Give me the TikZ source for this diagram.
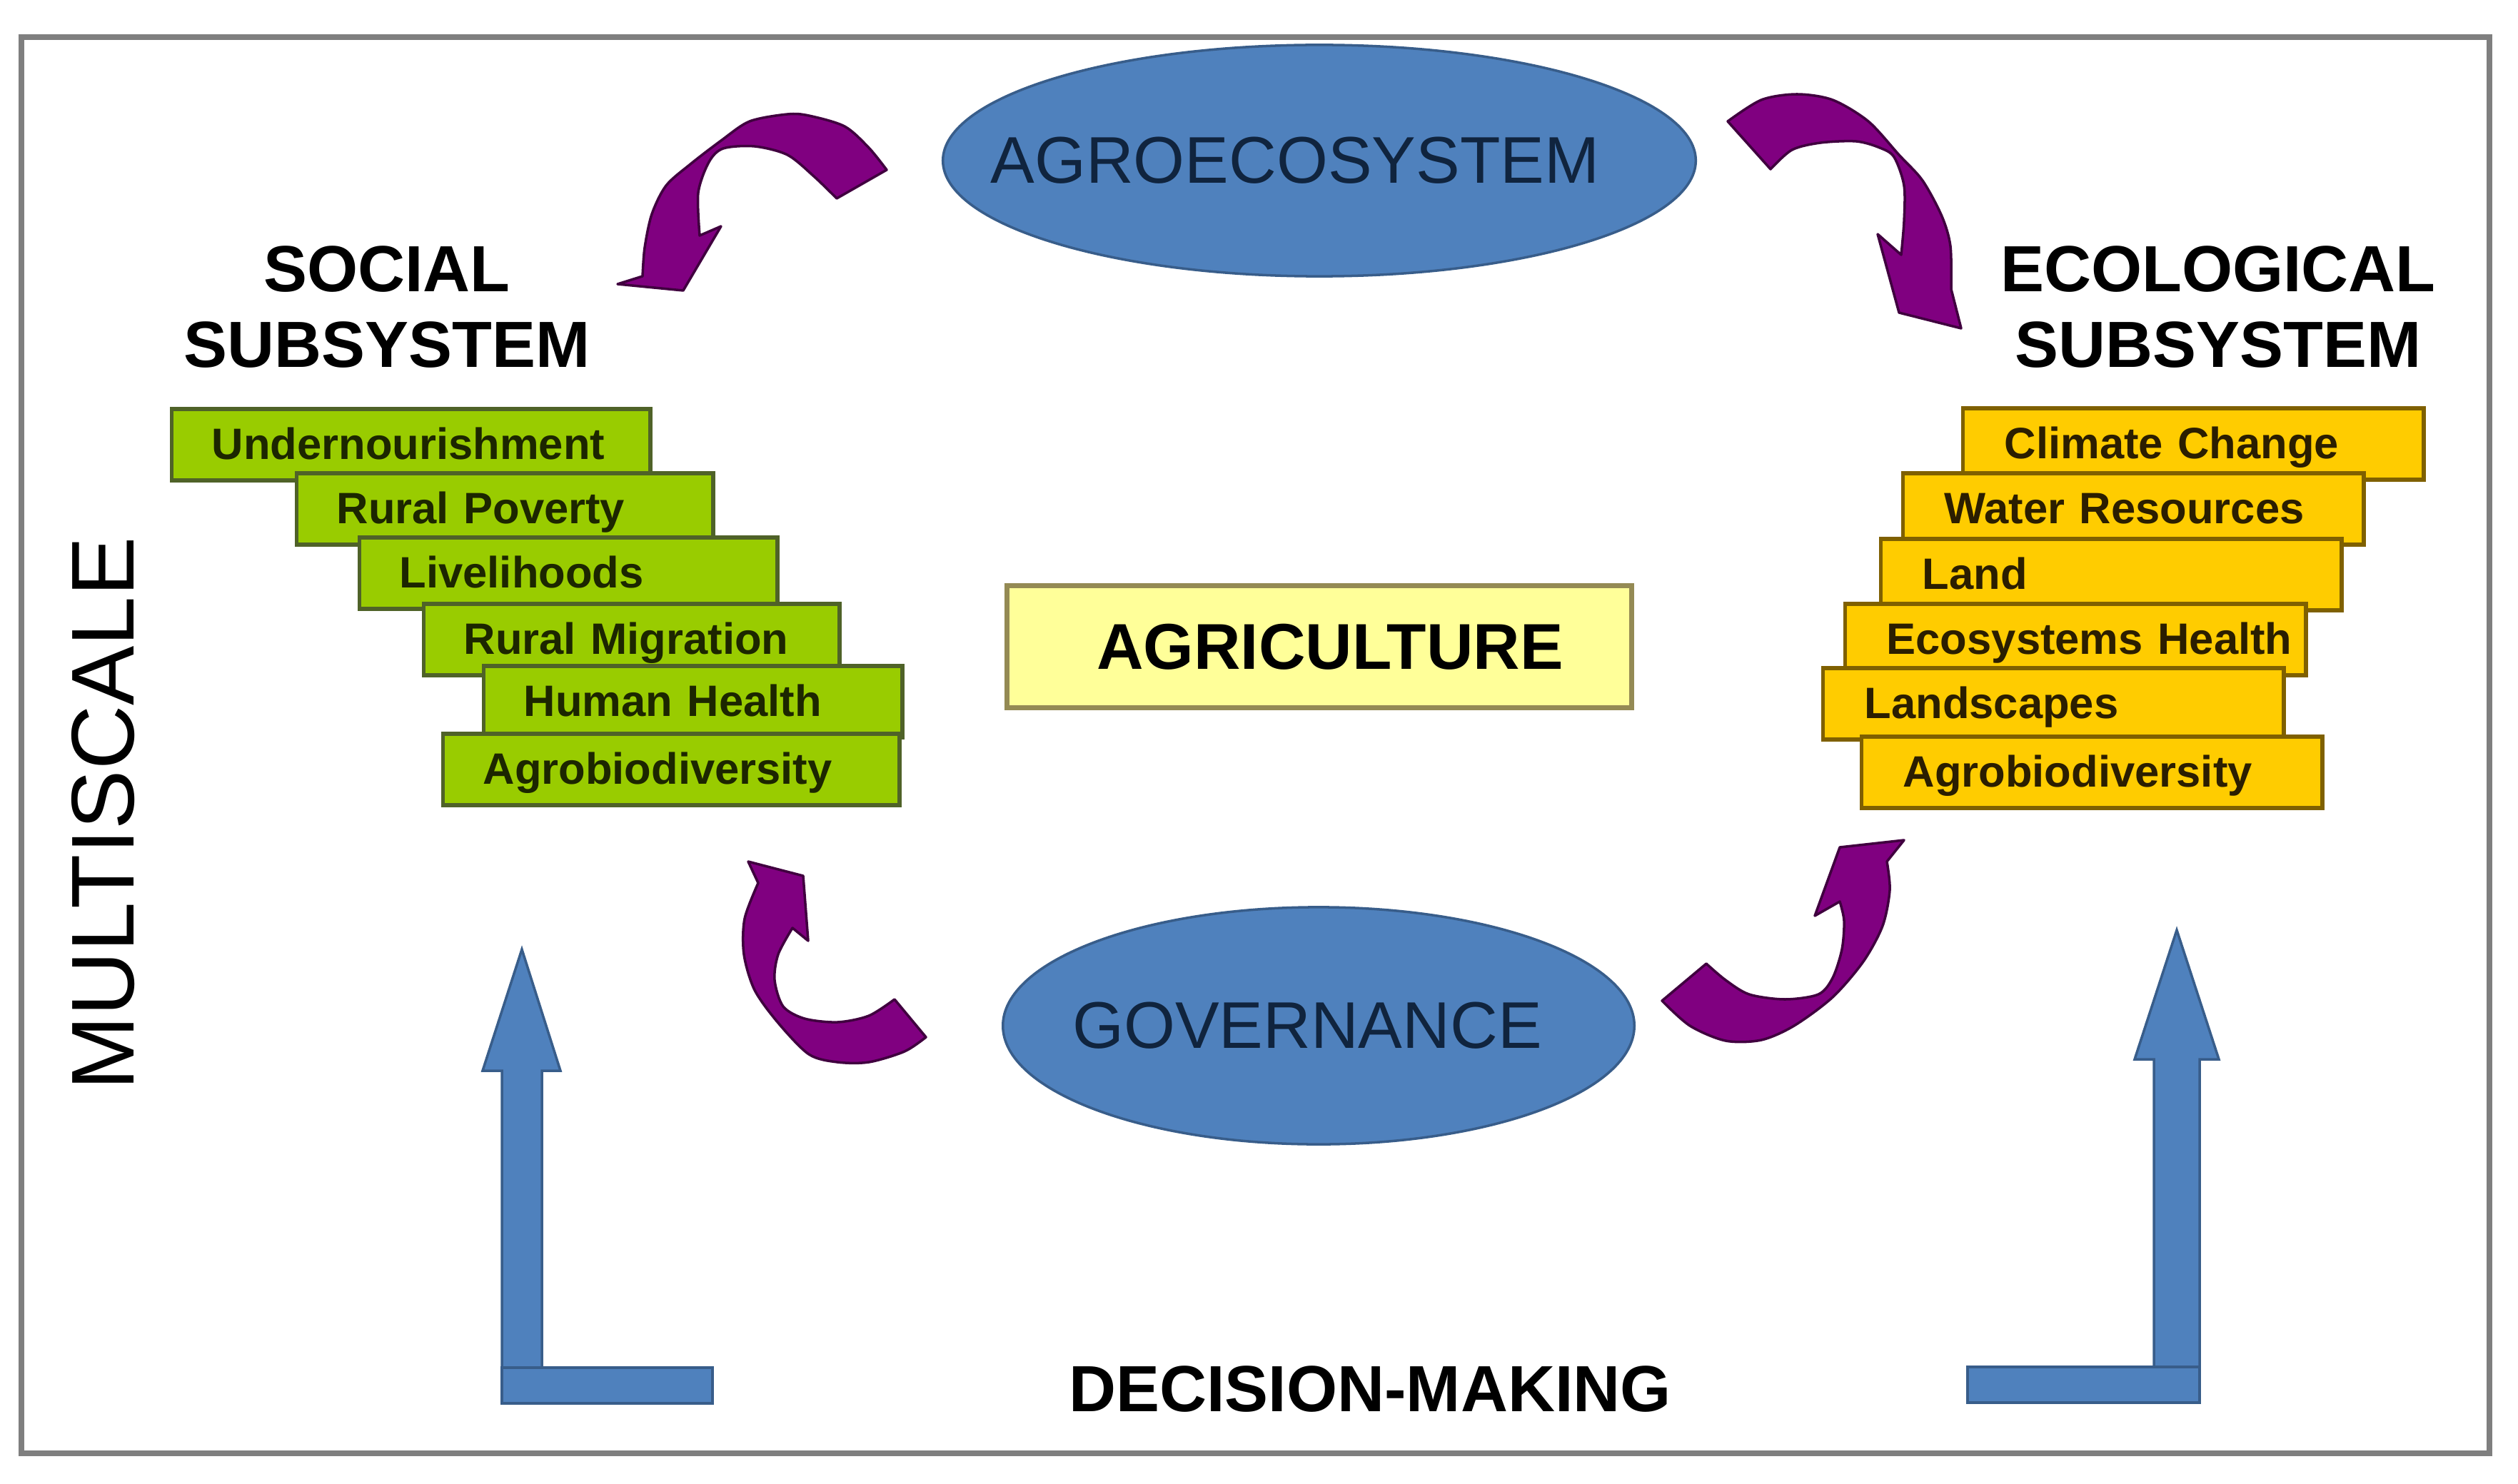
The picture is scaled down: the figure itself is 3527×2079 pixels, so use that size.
\documentclass[tikz,border=0pt]{standalone}
\usepackage{fontspec}
\setmainfont{Liberation Sans}
\usetikzlibrary{shapes.geometric}
\definecolor{officeblue}{HTML}{4F81BD}
\definecolor{officeblueline}{HTML}{385D8A}
\definecolor{navytext}{HTML}{10243E}
\definecolor{socgreen}{HTML}{99CC00}
\definecolor{socgreenline}{HTML}{4F6228}
\definecolor{socgreentext}{HTML}{1C2600}
\definecolor{ecogold}{HTML}{FFCC00}
\definecolor{ecogoldline}{HTML}{7F6000}
\definecolor{ecogoldtext}{HTML}{2B1E00}
\definecolor{agriyellow}{HTML}{FFFF99}
\definecolor{agriline}{HTML}{948A54}
\definecolor{loopviolet}{HTML}{800080}
\definecolor{loopvioletline}{HTML}{40003F}
\definecolor{framegray}{HTML}{7F7F7F}
\tikzstyle{hub} = [ellipse, draw=officeblueline, fill=officeblue, line width=1pt, text=navytext, inner xsep=-1cm, inner ysep=0pt, font=\fontsize{26.3}{30}\selectfont]
\tikzstyle{core} = [rectangle, draw=agriline, fill=agriyellow, line width=2pt, minimum width=8.75cm, minimum height=1.71cm, font=\fontsize{25.8}{30}\selectfont\bfseries]
\tikzstyle{title} = [align=center, font=\fontsize{26}{30.3}\selectfont\bfseries]
\tikzstyle{uparrow} = [draw=officeblueline, fill=officeblue, line width=1pt]
\tikzstyle{loop} = [draw=loopvioletline, fill=loopviolet, line width=1pt, line join=round]

\begin{document}
\begin{tikzpicture}[x=0.01cm, y=-0.01cm,
socbox/.style={shape=rectangle, anchor=west, draw=socgreenline, fill=socgreen, line width=1.5pt, minimum height=1cm, inner xsep=0pt, text height=12.5pt, text depth=1pt, align=left, text=socgreentext, font=\fontsize{17.5}{21}\selectfont\bfseries},
ecobox/.style={shape=rectangle, anchor=west, draw=ecogoldline, fill=ecogold, line width=1.5pt, minimum height=1cm, inner xsep=0pt, text height=12.5pt, text depth=1pt, align=left, text=ecogoldtext, font=\fontsize{17.5}{21}\selectfont\bfseries}
]
\useasboundingbox (0,0) rectangle (3527,2079);
\draw [framegray, line width=2.2pt] (30,52) rectangle (3487,2036);

\node (agro) [hub, minimum width=10.54cm, minimum height=3.24cm] at (1848,225) {AGROECOSYSTEM\hspace*{0.68cm}};
\node (gov) [hub, minimum width=8.84cm, minimum height=3.32cm] at (1847,1437) {GOVERNANCE\hspace*{0.32cm}};
\node (agri) [core] at (1848,906) {\hspace*{0.3cm}AGRICULTURE};
\node (social) [title] at (542,430) {SOCIAL\\SUBSYSTEM};
\node (ecological) [title] at (3107,430) {ECOLOGICAL\\SUBSYSTEM};
\node (multi) [rotate=90, font=\fontsize{35.5}{40}\selectfont] at (145,1140) {MULTISCALE};
\node (decision) [font=\fontsize{26}{30}\selectfont\bfseries] at (1919,1946) {DECISION-MAKING};

\foreach \i/\x/\y/\tw/\txt in {1/238/623/6.70/Undernourishment, 2/413/713/5.83/Rural Poverty, 3/501/803/5.85/Livelihoods, 4/591/896/5.82/Rural Migration, 5/675/983/5.86/Human Health, 6/618/1078/6.39/Agrobiodiversity}
  \node (soc\i) [socbox, text width=\tw cm] at (\x,\y) {\hspace*{0.56cm}\txt};

\foreach \i/\x/\y/\txt in {1/2747/622/Climate Change, 2/2663/713/Water Resources, 3/2632/805/Land, 4/2582/896/Ecosystems Health, 5/2551/986/Landscapes, 6/2605/1082/Agrobiodiversity}
  \node (eco\i) [ecobox, text width=6.45cm] at (\x,\y) {\hspace*{0.58cm}\txt};

\filldraw [loop] plot[smooth] coordinates {(1242,238) (1217,207) (1183,177) (1133,162) (1103,160) (1050,170) (1010,197) (967,230) (933,260) (913,300) (903,347) (900,387)} -- (865,398) -- (957,407) -- (1010,317) -- (980,330) -- plot[smooth] coordinates {(980,330) (978,270) (993,227) (1013,208) (1057,205) (1103,217) (1140,247) (1172,278)} -- cycle;
\filldraw [loop] plot[smooth] coordinates {(2420,170) (2467,140) (2517,132) (2567,140) (2617,170) (2660,217) (2693,253) (2720,303) (2732,345) (2733,405)} -- (2747,460) -- (2660,438) -- (2630,328) -- (2663,357) -- plot[smooth] coordinates {(2663,357) (2667,310) (2667,260) (2653,220) (2633,207) (2600,198) (2550,200) (2510,210) (2480,237)} -- cycle;
\filldraw [loop] (1048,1207) -- (1125,1227) -- (1132,1318) -- (1110,1300) -- plot[smooth] coordinates {(1110,1300) (1090,1337) (1085,1373) (1097,1410) (1127,1427) (1173,1432) (1217,1423) (1253,1400)} -- (1297,1453) -- plot[smooth] coordinates {(1297,1453) (1267,1473) (1217,1488) (1173,1488) (1133,1477) (1090,1433) (1057,1387) (1042,1337) (1043,1287) (1062,1237)} -- cycle;
\filldraw [loop] plot[smooth] coordinates {(2328,1402) (2367,1437) (2417,1458) (2467,1457) (2513,1437) (2567,1397) (2610,1347) (2637,1297) (2647,1247) (2643,1207)} -- (2667,1177) -- (2577,1187) -- (2542,1283) -- (2577,1263) -- plot[smooth] coordinates {(2577,1263) (2583,1290) (2580,1330) (2567,1370) (2547,1393) (2500,1400) (2450,1393) (2417,1373) (2390,1350)} -- cycle;

\filldraw [uparrow] (703,1966) -- (703,1500) -- (676,1500) -- (731,1330) -- (785,1500) -- (759,1500) -- (759,1966) -- cycle;
\filldraw [uparrow] (703,1916) rectangle (998,1966);
\filldraw [uparrow] (3017,1965) -- (3017,1484) -- (2990,1484) -- (3049,1303) -- (3108,1484) -- (3081,1484) -- (3081,1965) -- cycle;
\filldraw [uparrow] (2756,1915) rectangle (3081,1965);
\end{tikzpicture}
\end{document}
